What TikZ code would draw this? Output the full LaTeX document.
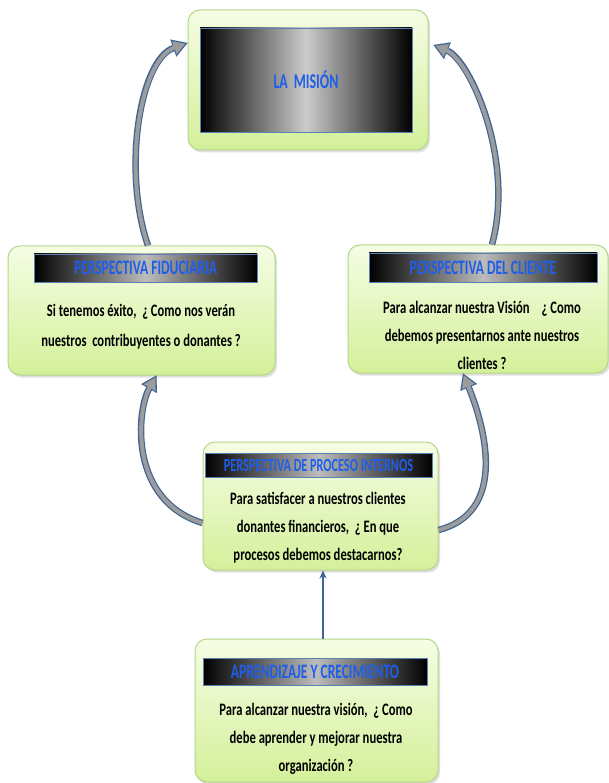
\documentclass[tikz,border=0pt]{standalone}
\usepackage{fontspec}
\setmainfont{Carlito}[FakeStretch=0.72]
\newfontfamily\titlefont{Carlito}[FakeStretch=0.66]
\usetikzlibrary{arrows.meta,shadows}

\definecolor{boxtop}{HTML}{F5FDE4}
\definecolor{boxbot}{HTML}{D4F09A}
\definecolor{boxline}{HTML}{B5D68A}
\definecolor{bartext}{HTML}{1E5EEB}
\definecolor{barline}{HTML}{5B7FB5}
\definecolor{arrowline}{HTML}{3E6496}
\definecolor{arrowfill}{HTML}{9C9C9C}

\tikzset{
  card/.style={rounded corners=12pt, draw=boxline, line width=1pt,
    top color=boxtop, bottom color=boxbot, inner sep=0pt,
    drop shadow={shadow xshift=2pt, shadow yshift=-2.5pt, opacity=0.25}},
  bar/.style={draw=barline, line width=0.6pt, left color=black, right color=black,
    middle color=white!74!black, text=bartext, inner sep=0pt},
  bartitle/.style={bar, font=\titlefont\bfseries\fontsize{20.5}{24}\selectfont},
  body/.style={font=\bfseries\fontsize{17.5}{28}\selectfont, align=center, text=black},
  curveout/.style={draw=arrowline, line width=6.5pt,
    -{Triangle[length=15pt,width=18pt,line width=0.01pt]}},
  curvein/.style={draw=arrowfill, line width=4pt, shorten >=2.4pt,
    -{Triangle[length=11.5pt,width=13.5pt,line width=0.01pt]}},
  uparrow/.style={draw=arrowline, line width=1.8pt, -{Stealth[length=8pt,width=7pt]}},
}

\begin{document}
\begin{tikzpicture}[x=1pt,y=-1pt]
  \fill[white] (0,0) rectangle (609,783);
  \useasboundingbox (0,0) rectangle (609,783);

  % mission at the top
  \node[card, minimum width=240pt, minimum height=140pt] (mision) at (308,80) {};
  \node[bar, middle color=white!80!black, minimum width=212pt, minimum height=104pt,
        font=\titlefont\bfseries\fontsize{21}{24}\selectfont] (misiontxt) at (306,80) {LA\hspace{6pt}MISIÓN};

  % fiduciary perspective
  \node[card, minimum width=267pt, minimum height=129pt] (fid) at (141.5,310.5) {};
  \node[bartitle, minimum width=223pt, minimum height=28pt] (fidbar) at (145.5,268) {PERSPECTIVA FIDUCIARIA};
  \node[body, font=\bfseries\fontsize{17.5}{30}\selectfont] (fidtxt) at (141,327)
    {Si tenemos éxito,\ \ ¿ Como nos verán\\nuestros\ \ contribuyentes o donantes ?};

  % client perspective
  \node[card, minimum width=260pt, minimum height=128pt] (cli) at (478,309) {};
  \node[bartitle, minimum width=228pt, minimum height=29pt] (clibar) at (483,267.5) {PERSPECTIVA DEL CLIENTE};
  \node[body] (clitxt) at (482,335)
    {Para alcanzar nuestra Visión\hspace{12pt}¿ Como\\debemos presentarnos ante nuestros\\clientes ?};

  % internal processes
  \node[card, minimum width=235pt, minimum height=128pt] (proc) at (320.5,506) {};
  \node[bartitle, font=\titlefont\bfseries\fontsize{18.5}{22}\selectfont, minimum width=227pt, minimum height=24pt] (procbar) at (318.5,465)
    {PERSPECTIVA DE PROCESO INTERNOS};
  \node[body] (proctxt) at (318,527.5)
    {Para satisfacer a nuestros clientes\\donantes financieros,\ \ ¿ En que\\procesos debemos destacarnos?};

  % learning and growth
  \node[card, minimum width=243pt, minimum height=143pt] (apr) at (316.5,710.5) {};
  \node[bartitle, minimum width=224pt, minimum height=27pt] (aprbar) at (315,671.5) {APRENDIZAJE Y CRECIMIENTO};
  \node[body] (aprtxt) at (316,738.5)
    {Para alcanzar nuestra visión,\ \ ¿ Como\\debe aprender y mejorar nuestra\\organización ?};

  % curved block arrows: blue outline pass, then grey body pass
  \foreach \sty in {curveout,curvein} {
    \draw[\sty] ([xshift=6.5pt]fid.north) .. controls (122,170) and (140,60) .. ([yshift=37pt]mision.west);
    \draw[\sty] ([xshift=14pt]cli.north) .. controls (515,160) and (470,60) .. ([xshift=5pt,yshift=35pt]mision.east);
    \draw[\sty] ([yshift=-17pt]proc.west) .. controls (128,500) and (137,410) .. ([xshift=15pt]fid.south);
    \draw[\sty] ([yshift=-24pt]proc.east) .. controls (515,510) and (478,410) .. ([xshift=-15pt]cli.south);
  }

  % straight arrow from learning to processes
  \draw[uparrow] ([xshift=6.5pt]apr.north) -- ([xshift=2.5pt]proc.south);
\end{tikzpicture}
\end{document}
